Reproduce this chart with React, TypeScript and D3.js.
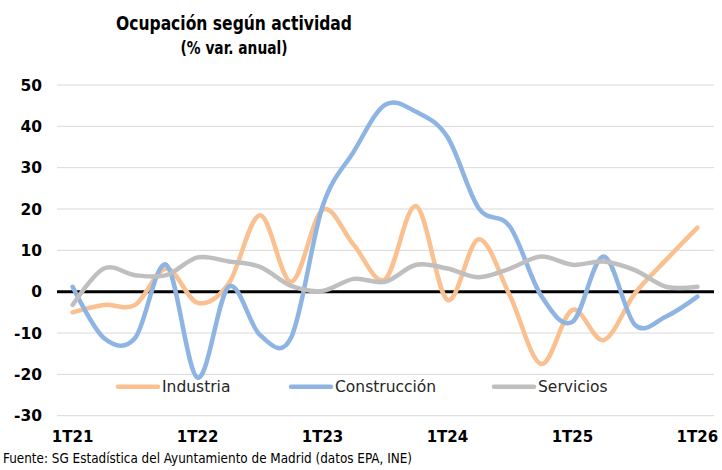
import React from "react";
import * as d3 from "d3";

const width = 722;
const height = 470;
const margin = { top: 85, right: 8, bottom: 54, left: 57 };

// quarters 1T21 .. 1T26
const quarters = [
  "1T21", "2T21", "3T21", "4T21",
  "1T22", "2T22", "3T22", "4T22",
  "1T23", "2T23", "3T23", "4T23",
  "1T24", "2T24", "3T24", "4T24",
  "1T25", "2T25", "3T25", "4T25",
  "1T26",
];

const industria = [
  -5, -3.2, -3.2, 5.6, -2.7, 2, 18.5, 2.4, 19.8, 11.3, 3, 20.7, -2, 12.7, -1,
  -17.5, -4.4, -11.7, -0.4, 7.7, 15.5,
];
const construccion = [
  1.2, -11.2, -11.2, 6.5, -20.8, 1.2, -10.5, -11, 20.6, 33.9, 45.2, 43.5, 37.4,
  20.2, 15.7, -1, -7.3, 8.5, -8, -6, -1.2,
];
const servicios = [
  -3.2, 5.6, 4, 4, 8.3, 7.3, 6, 1.4, 0.2, 3.1, 2.4, 6.5, 5.6, 3.5, 5.6, 8.5,
  6.5, 7.3, 5.2, 1.2, 1.2,
];

const yTicks = [-30, -20, -10, 0, 10, 20, 30, 40, 50];
const xTickLabels = ["1T21", "1T22", "1T23", "1T24", "1T25", "1T26"];

const seriesNames = ["Industria", "Construcción", "Servicios"];
const seriesColors = ["#FAC090", "#8DB4E2", "#BFBFBF"];
const seriesValues = [industria, construccion, servicios];

export default function App() {
  const x = d3
    .scalePoint<string>()
    .domain(quarters)
    .range([margin.left, width - margin.right - 1])
    .padding(0.5);

  const y = d3
    .scaleLinear()
    .domain([-30, 50])
    .range([415.7, margin.top]);

  const line = d3
    .line<number>()
    .x((_, i) => x(quarters[i]) as number)
    .y((d) => y(d))
    .curve(d3.curveCardinal.tension(0));

  // legend slots
  const legendX = d3.scaleOrdinal<string, number>().domain(seriesNames).range([116, 289, 492]);
  const legendY = y(-23);

  return (
    <svg
      width={width}
      height={height}
      style={{ position: "absolute", left: 0, top: 0, background: "#fff" }}
    >
      <text
        x={234}
        y={30}
        textAnchor="middle"
        fontFamily="DejaVu Sans Condensed, DejaVu Sans, sans-serif"
        fontWeight="bold"
        fontSize={19.5}
        textLength={236}
        lengthAdjust="spacingAndGlyphs"
      >
        Ocupación según actividad
      </text>
      <text
        x={234}
        y={54}
        textAnchor="middle"
        fontFamily="DejaVu Sans Condensed, DejaVu Sans, sans-serif"
        fontWeight="bold"
        fontSize={17}
        textLength={107}
        lengthAdjust="spacingAndGlyphs"
      >
        (% var. anual)
      </text>

      {/* grid */}
      {yTicks
        .filter((t) => t !== 0)
        .map((t) => (
          <line
            key={t}
            x1={margin.left}
            x2={width - margin.right}
            y1={y(t)}
            y2={y(t)}
            stroke="#D9D9D9"
            strokeWidth={1}
          />
        ))}

      {/* y labels */}
      {yTicks.map((t) => (
        <text
          key={t}
          x={42}
          y={y(t)}
          dy="0.36em"
          textAnchor="end"
          fontFamily="DejaVu Sans, Verdana, sans-serif"
          fontWeight="bold"
          fontSize={15.5}
        >
          {t}
        </text>
      ))}

      {/* x labels */}
      {xTickLabels.map((q) => (
        <text
          key={q}
          x={x(q)}
          y={442}
          textAnchor="middle"
          fontFamily="DejaVu Sans, Verdana, sans-serif"
          fontWeight="bold"
          fontSize={15}
        >
          {q}
        </text>
      ))}

      {/* zero line */}
      <line
        x1={margin.left}
        x2={width - margin.right}
        y1={y(0)}
        y2={y(0)}
        stroke="#000"
        strokeWidth={3}
      />

      {/* series */}
      {seriesValues.map((vals, i) => (
        <path
          key={seriesNames[i]}
          d={line(vals) ?? ""}
          fill="none"
          stroke={seriesColors[i]}
          strokeWidth={4.5}
          strokeLinecap="round"
          strokeLinejoin="round"
        />
      ))}

      {/* legend */}
      {seriesNames.map((name, i) => (
        <g key={name} transform={`translate(${legendX(name)},${legendY})`}>
          <line x1={2} x2={42} y1={0} y2={0} stroke={seriesColors[i]} strokeWidth={4.5} strokeLinecap="round" />
          <text
            x={46}
            y={0}
            dy="0.36em"
            fontFamily="DejaVu Sans, Verdana, sans-serif"
            fontSize={15.5}
            fill="#262626"
          >
            {name}
          </text>
        </g>
      ))}

      <text
        x={3}
        y={463}
        fontFamily="DejaVu Sans Condensed, DejaVu Sans, sans-serif"
        fontSize={13.5}
        textLength={409}
        lengthAdjust="spacingAndGlyphs"
      >
        Fuente: SG Estadística del Ayuntamiento de Madrid (datos EPA, INE)
      </text>
    </svg>
  );
}
